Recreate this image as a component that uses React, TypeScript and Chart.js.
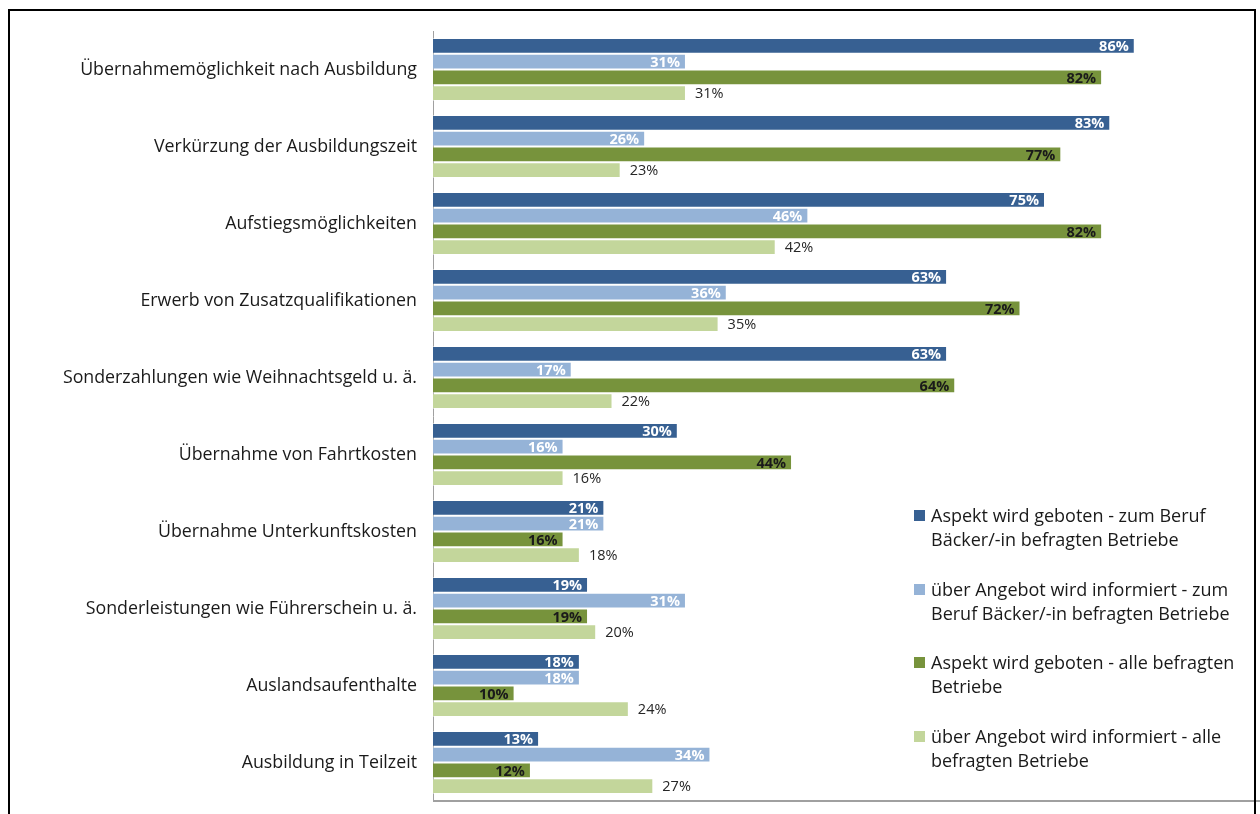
import React, { useEffect, useRef } from "react";
import { Chart, registerables } from "chart.js";

Chart.register(...registerables);

const categories = [
  "Übernahmemöglichkeit nach Ausbildung",
  "Verkürzung der Ausbildungszeit",
  "Aufstiegsmöglichkeiten",
  "Erwerb von Zusatzqualifikationen",
  "Sonderzahlungen wie Weihnachtsgeld u. ä.",
  "Übernahme von Fahrtkosten",
  "Übernahme Unterkunftskosten",
  "Sonderleistungen wie Führerschein u. ä.",
  "Auslandsaufenthalte",
  "Ausbildung in Teilzeit",
];

const gebotenBaecker = [86, 83, 75, 63, 63, 30, 21, 19, 18, 13];
const informiertBaecker = [31, 26, 46, 36, 17, 16, 21, 31, 18, 34];
const gebotenAlle = [82, 77, 82, 72, 64, 44, 16, 19, 10, 12];
const informiertAlle = [31, 23, 42, 35, 22, 16, 18, 20, 24, 27];

const seriesNames = [
  "Aspekt wird geboten -  zum Beruf Bäcker/-in befragten Betriebe",
  "über Angebot wird informiert - zum Beruf Bäcker/-in befragten Betriebe",
  "Aspekt wird geboten - alle befragten Betriebe",
  "über Angebot wird informiert - alle befragten Betriebe",
];
const legendLines = [
  ["Aspekt wird geboten -  zum Beruf", "Bäcker/-in befragten Betriebe"],
  ["über Angebot wird informiert - zum", "Beruf Bäcker/-in befragten Betriebe"],
  ["Aspekt wird geboten - alle befragten", "Betriebe"],
  ["über Angebot wird informiert - alle", "befragten Betriebe"],
];
const colors = ["#376092", "#95B3D7", "#77933C", "#C3D69B"];
const FONT = "'Open Sans', 'Noto Sans', sans-serif";

const labelPlugin = {
  id: "barLabels",
  afterDraw(chart: any) {
    const ctx = chart.ctx;
    ctx.save();
    const a = chart.chartArea;
    ctx.fillStyle = "#a0a0a0";
    ctx.fillRect(a.left, a.bottom - 1, chart.width - a.left, 2);
    chart.data.datasets.forEach((ds: any, di: number) => {
      const meta = chart.getDatasetMeta(di);
      meta.data.forEach((bar: any, i: number) => {
        const txt = ds.data[i] + "%";
        ctx.textBaseline = "middle";
        if (di < 3) {
          ctx.font = "bold 14.5px " + FONT;
          ctx.fillStyle = di === 2 ? "#1a1a1a" : "#ffffff";
          ctx.textAlign = "right";
          ctx.fillText(txt, bar.x - 6, bar.y + 1);
        } else {
          ctx.font = "14.5px " + FONT;
          ctx.fillStyle = "#262626";
          ctx.textAlign = "left";
          ctx.fillText(txt, bar.x + 9, bar.y + 1);
        }
      });
    });
    ctx.restore();
  },
};

export default function App() {
  const ref = useRef<HTMLCanvasElement>(null);
  useEffect(() => {
    document.body.style.margin = "0";
    const series = [gebotenBaecker, informiertBaecker, gebotenAlle, informiertAlle];
    const chart = new Chart(ref.current!, {
      type: "bar",
      data: {
        labels: categories,
        datasets: series.map((d, i) => ({
          label: seriesNames[i],
          data: d,
          backgroundColor: colors[i],
          borderColor: "rgba(255,255,255,0.45)",
          borderWidth: 1,
          barPercentage: 1.0,
          categoryPercentage: 0.82,
        })),
      },
      options: {
        indexAxis: "y",
        animation: false,
        responsive: false,
        maintainAspectRatio: false,
        layout: { padding: { top: 31, bottom: 13, right: 11, left: 0 } },
        plugins: { legend: { display: false }, tooltip: { enabled: false } },
        scales: {
          x: {
            display: false,
            min: 0,
            max: 100,
          },
          y: {
            ticks: {
              color: "#1a1a1a",
              font: { family: FONT, size: 17.8 },
              padding: 16,
            },
            grid: { display: false, drawTicks: false },
            border: { display: true, color: "#a0a0a0" },
            afterFit: (s: any) => {
              s.width = 433;
              s.paddingTop = 0;
              s.paddingBottom = 0;
            },
          },
        },
      },
      plugins: [labelPlugin],
    });
    return () => chart.destroy();
  }, []);

  return (
    <div style={{ position: "relative", width: 1260, height: 814, overflow: "hidden", background: "#fff" }}>
      <canvas ref={ref} width={1260} height={814} style={{ position: "absolute", left: 0, top: 0 }} />
      <div
        style={{
          position: "absolute",
          left: 8,
          top: 9,
          width: 1248,
          height: 820,
          border: "2px solid #000",
          boxSizing: "border-box",
          pointerEvents: "none",
        }}
      />
      {legendLines.map((lines, i) => (
        <div
          key={i}
          style={{
            position: "absolute",
            left: 914,
            top: 503 + i * 73.5,
            fontFamily: FONT,
            fontSize: 18,
            lineHeight: "24px",
            color: "#1a1a1a",
          }}
        >
          <span
            style={{
              position: "absolute",
              left: 0,
              top: 7,
              width: 11,
              height: 11,
              background: colors[i],
            }}
          />
          <div style={{ marginLeft: 17, whiteSpace: "nowrap" }}>
            {lines[0]}
            <br />
            {lines[1]}
          </div>
        </div>
      ))}
    </div>
  );
}
